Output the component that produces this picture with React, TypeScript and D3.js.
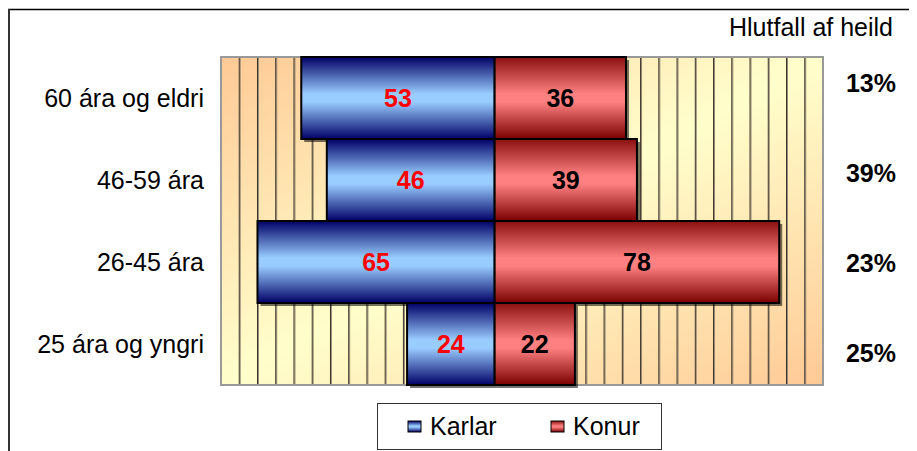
import React from "react";
import * as d3 from "d3";

const categories = ["60 ára og eldri", "46-59 ára", "26-45 ára", "25 ára og yngri"];
const karlar = [53, 46, 65, 24];
const konur = [36, 39, 78, 22];
const shares = ["13%", "39%", "23%", "25%"];
const seriesNames = ["Karlar", "Konur"];
const axisDomain = [-75, 90];
const gridStep = 5;

const W = 909;
const H = 443;
const FONT = "'Liberation Sans', Arial, sans-serif";
const FS = 25;

export default function App() {
  const x = d3.scaleLinear().domain(axisDomain).range([213, 815]);
  const y = d3.scaleBand<string>().domain(categories).range([49, 377]).padding(0);
  const yPct = d3.scalePoint<string>().domain(categories).range([75, 345]);
  const bw = y.bandwidth();
  const grid = d3.range(axisDomain[0] + gridStep, axisDomain[1], gridStep);
  const [x0, x1] = x.range();
  const [y0, y1] = y.range();

  return (
    <svg width={W} height={H} style={{ display: "block" }} fontFamily={FONT}>
      <defs>
        <linearGradient id="bg" x1="0" y1="0" x2="1" y2="1">
          <stop offset="0" stopColor="#ffc995" />
          <stop offset="0.5" stopColor="#ffffcc" />
          <stop offset="1" stopColor="#ffc995" />
        </linearGradient>
        <linearGradient id="blue" x1="0" y1="0" x2="0" y2="1">
          <stop offset="0" stopColor="#000066" />
          <stop offset="0.45" stopColor="#99ccff" />
          <stop offset="0.55" stopColor="#99ccff" />
          <stop offset="1" stopColor="#000066" />
        </linearGradient>
        <linearGradient id="red" x1="0" y1="0" x2="0" y2="1">
          <stop offset="0" stopColor="#8a1010" />
          <stop offset="0.45" stopColor="#ff8080" />
          <stop offset="0.55" stopColor="#ff8080" />
          <stop offset="1" stopColor="#7a0000" />
        </linearGradient>
      </defs>
      <rect x={0} y={0} width={W} height={H} fill="#fff" />
      <line x1={0} y1={1.5} x2={W} y2={1.5} stroke="#000" strokeWidth={1.5} />
      <line x1={1} y1={1} x2={1} y2={H} stroke="#333" strokeWidth={2} />

      <text x={885} y={28} textAnchor="end" fontSize={FS} fill="#000">Hlutfall af heild</text>

      <rect x={x0} y={y0} width={x1 - x0} height={y1 - y0} fill="url(#bg)" />
      {grid.map((g) => (
        <g key={g}>
          <line x1={x(g) + 1} x2={x(g) + 1} y1={y0} y2={y1} stroke="#9a8c78" strokeWidth={1} />
          <line x1={x(g)} x2={x(g)} y1={y0} y2={y1} stroke="#3a3328" strokeWidth={1} />
        </g>
      ))}
      <rect x={x0} y={y0} width={x1 - x0} height={y1 - y0} fill="none" stroke="#999" strokeWidth={2} />

      {categories.map((c, i) => {
        const yb = y(c)!;
        return (
          <g key={"s" + c}>
            <rect x={x(-karlar[i]) + 3} y={yb + 3} width={x(0) - x(-karlar[i])} height={bw} fill="#000" opacity={0.55} />
            <rect x={x(0) + 3} y={yb + 3} width={x(konur[i]) - x(0)} height={bw} fill="#000" opacity={0.55} />
          </g>
        );
      })}
      {categories.map((c, i) => {
        const yb = y(c)!;
        return (
          <g key={"b" + c}>
            <rect x={x(-karlar[i])} y={yb} width={x(0) - x(-karlar[i])} height={bw} fill="url(#blue)" stroke="#000" strokeWidth={2} />
            <rect x={x(0)} y={yb} width={x(konur[i]) - x(0)} height={bw} fill="url(#red)" stroke="#000" strokeWidth={2} />
          </g>
        );
      })}
      {categories.map((c, i) => {
        const yc = y(c)! + bw / 2;
        return (
          <g key={"l" + c}>
            <text x={(x(0) + x(-karlar[i])) / 2} y={yc} dy="0.36em" textAnchor="middle" fontSize={FS} fontWeight="bold" fill="#ff0000">{karlar[i]}</text>
            <text x={(x(0) + x(konur[i])) / 2} y={yc} dy="0.36em" textAnchor="middle" fontSize={FS} fontWeight="bold" fill="#000">{konur[i]}</text>
            <text x={196} y={yc} dy="0.36em" textAnchor="end" fontSize={FS} fill="#000">{c}</text>
            <text x={863} y={yPct(c)!} dy="0.36em" textAnchor="middle" fontSize={FS} fontWeight="bold" fill="#000">{shares[i]}</text>
          </g>
        );
      })}

      <rect x={369.5} y={395.5} width={284} height={46} fill="#fff" stroke="#333" strokeWidth={1} />
      {seriesNames.map((s, i) => {
        const lx = 400 + i * 143;
        return (
          <g key={s}>
            <rect x={lx} y={413} width={13} height={11} fill={i === 0 ? "url(#blue)" : "url(#red)"} stroke="#000" strokeWidth={1} />
            <text x={lx + 22} y={427} fontSize={FS} fill="#000">{s}</text>
          </g>
        );
      })}
    </svg>
  );
}
